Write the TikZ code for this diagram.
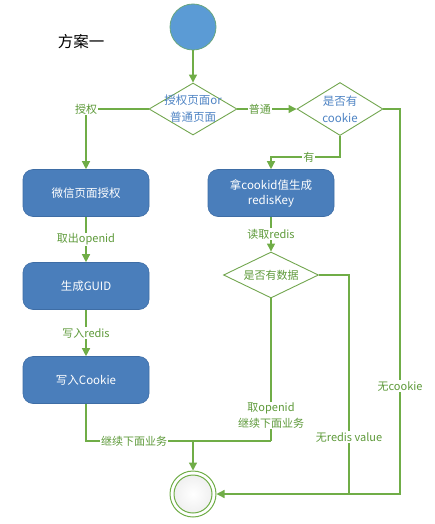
\documentclass[tikz,border=0pt]{standalone}
\usepackage{fontspec}
\setmainfont{Noto Sans CJK SC}
\usetikzlibrary{shapes.geometric,arrows.meta}
\definecolor{lg}{HTML}{70AD47}
\definecolor{lgt}{HTML}{5E9A3A}
\definecolor{boxb}{HTML}{4A7EBB}
\definecolor{boxd}{HTML}{3E6DA5}
\definecolor{dtext}{HTML}{4F84C4}
\definecolor{startb}{HTML}{5B9BD5}
\begin{document}
\begin{tikzpicture}[x=1pt,y=-1pt,
  ln/.style={draw=lg,line width=1.3pt},
  arr/.style={ln,-{Triangle[length=8pt,width=8pt]}},
  lbl/.style={fill=white,text=lgt,font=\fontsize{11}{16}\selectfont,inner sep=1pt,align=center},
  proc/.style={rectangle,rounded corners=10pt,fill=boxb,draw=boxd,line width=0.6pt,
    minimum width=126pt,minimum height=47pt,text=white,align=center,
    font=\fontsize{11.5}{15}\selectfont},
  dec/.style={diamond,draw=lg!85!gray,line width=0.9pt,fill=white,inner sep=0pt},
  dtxt/.style={text=dtext,align=center,font=\fontsize{11.5}{17}\selectfont}]
\useasboundingbox (0,0) rectangle (434,524);
% start / end
\node[circle,fill=startb,draw=lg!60!startb,line width=0.8pt,minimum size=46pt,inner sep=0pt] (start) at (193,27) {};
\node[anchor=center,font=\fontsize{15.5}{17}\selectfont] (title) at (81,42) {方案一};
\node[circle,draw=lg,line width=1pt,minimum size=46pt,inner sep=0pt,fill=white] (end) at (193,494) {};
\node[circle,draw=lg,line width=1pt,minimum size=38pt,inner sep=0pt,inner color=white,outer color=gray!12] (endin) at (193,494) {};
% decisions
\node[dec,minimum width=88pt,minimum height=52pt] (d1) at (193,109) {};
\node[dtxt] (d1t) at (193,109) {授权页面or\\普通页面};
\node[dec,minimum width=86pt,minimum height=53pt] (d2) at (340,109) {};
\node[dtxt] (d2t) at (340,109) {是否有\\cookie};
\node[dec,minimum width=95pt,minimum height=46pt] (d3) at (271,275) {};
\node[dtxt,text=lgt,font=\fontsize{11}{13}\selectfont] (d3t) at (271,275) {是否有数据};
% processes
\node[proc] (b1) at (86,193) {微信页面授权};
\node[proc] (b2) at (86,286) {生成GUID};
\node[proc] (b3) at (86,380) {写入Cookie};
\node[proc] (b4) at (271,193) {拿cookid值生成\\redisKey};
% coordinates
\coordinate (j) at (193,441);
\coordinate (jr) at (271,441);
\coordinate (c1) at (340,157);
\coordinate (c2) at (271,157);
\coordinate (r1) at (400,109);
\coordinate (r2) at (400,494);
\coordinate (r3) at (349,275);
\coordinate (r4) at (349,494);
% connectors
\draw[arr] (start) -- (d1);
\draw[arr] (d1.west) -| node[lbl,pos=0.5] {授权} (b1.north);
\draw[arr] (b1) -- node[lbl] {取出openid} (b2);
\draw[arr] (b2) -- node[lbl] {写入redis} (b3);
\draw[ln] (b3.south) |- node[lbl,pos=0.63] {继续下面业务} (jr);
\draw[ln] (d3.south) -- node[lbl,pos=0.82] {取openid\\继续下面业务} (jr);
\draw[arr] (j) -- (end);
\draw[arr] (d1.east) -- node[lbl,pos=0.38] {普通} (d2.west);
\draw[arr] (d2.south) -- (c1) -- node[lbl,pos=0.45] {有} (c2) -- (b4.north);
\draw[arr] (b4) -- node[lbl,pos=0.5] {读取redis} (d3);
\draw[arr] (d2.east) -- (r1) -- node[lbl,pos=0.72] {无cookie} (r2) -- (end.east);
\draw[ln] (d3.east) -- (r3) -- node[lbl,pos=0.74] {无redis value} (r4);
\end{tikzpicture}
\end{document}
